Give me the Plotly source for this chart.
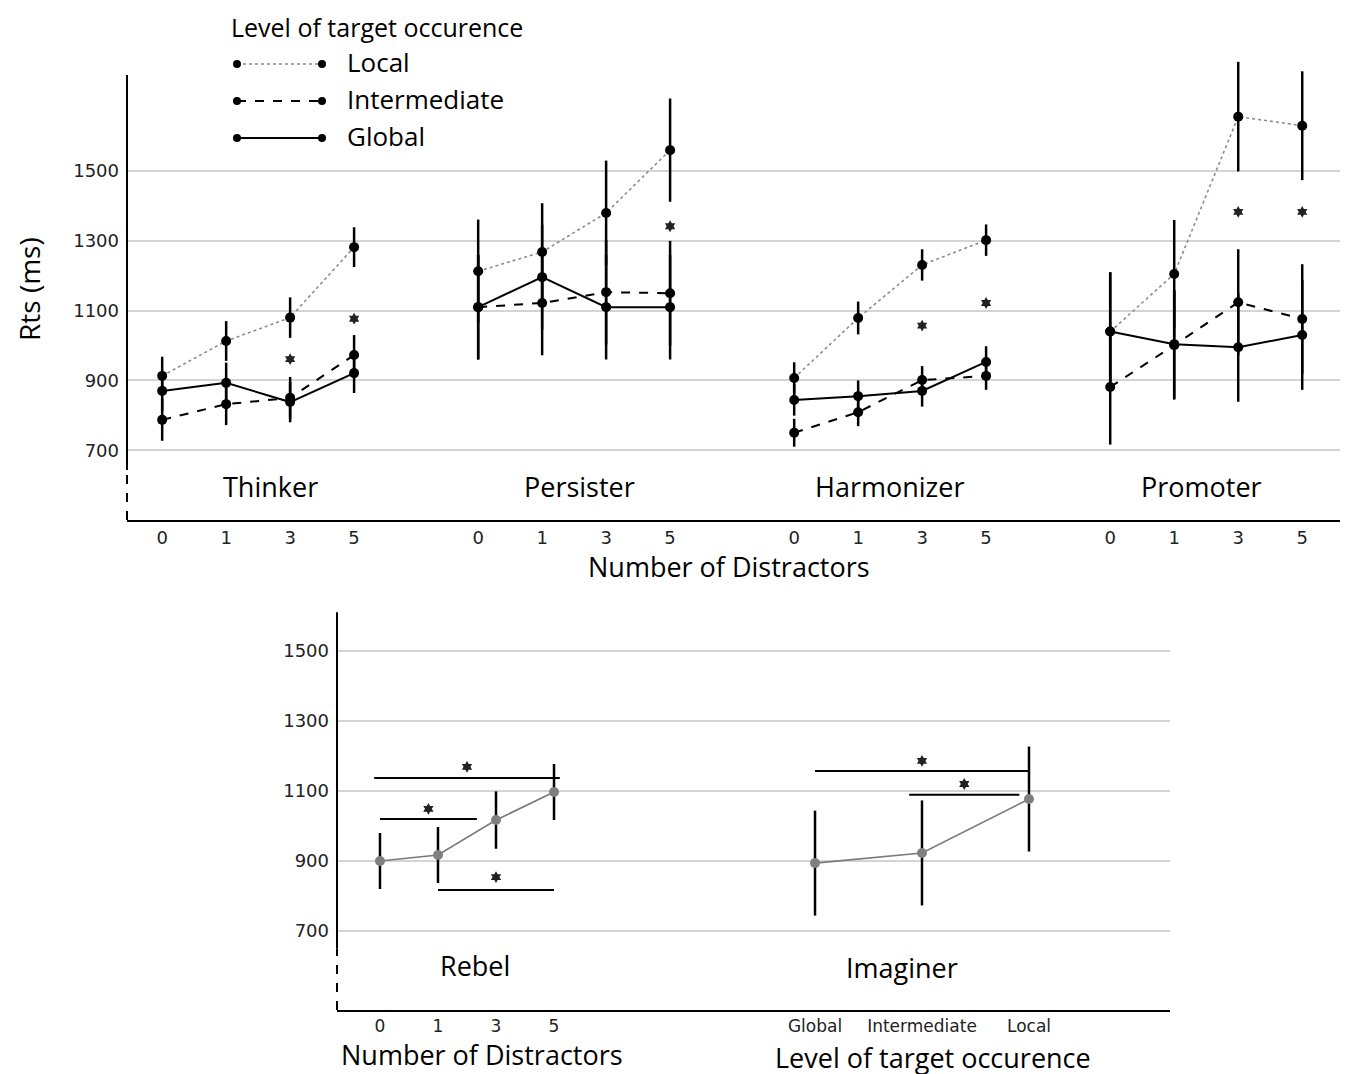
import plotly.graph_objects as go

W, H = 1357, 1074
OFF = 8  # page body margin of the browser

# ---------------- data ----------------
distractors = ['0', '1', '3', '5']
types_top = ['Thinker', 'Persister', 'Harmonizer', 'Promoter']
levels = ['Local', 'Intermediate', 'Global']

thinker_local = [913, 1013, 1080, 1282]
thinker_local_err = [55, 57, 58, 57]
thinker_inter = [787, 832, 850, 973]
thinker_inter_err = [60, 60, 60, 57]
thinker_global = [870, 893, 838, 921]
thinker_global_err = [58, 58, 58, 57]

persister_local = [1213, 1268, 1380, 1560]
persister_local_err = [148, 140, 150, 148]
persister_inter = [1110, 1122, 1153, 1150]
persister_inter_err = [150, 150, 150, 150]
persister_global = [1110, 1196, 1110, 1110]
persister_global_err = [150, 150, 150, 150]

harmonizer_local = [907, 1079, 1231, 1302]
harmonizer_local_err = [45, 47, 45, 45]
harmonizer_inter = [750, 809, 901, 913]
harmonizer_inter_err = [40, 40, 40, 40]
harmonizer_global = [844, 855, 870, 953]
harmonizer_global_err = [45, 45, 45, 45]

promoter_local = [1040, 1205, 1656, 1630]
promoter_local_err = [170, 155, 157, 156]
promoter_inter = [881, 1001, 1124, 1076]
promoter_inter_err = [165, 156, 152, 157]
promoter_global = [1040, 1004, 995, 1030]
promoter_global_err = [170, 156, 156, 157]

# significance stars (category, value) per top panel
thinker_sig_x = ['3', '5']
thinker_sig_y = [961, 1077]
persister_sig_x = ['5']
persister_sig_y = [1342]
harmonizer_sig_x = ['3', '5']
harmonizer_sig_y = [1057, 1122]
promoter_sig_x = ['3', '5']
promoter_sig_y = [1383, 1383]

# bottom panels
rebel_cats = ['0', '1', '3', '5']
rebel_vals = [900, 917, 1017, 1097]
rebel_err = [80, 80, 82, 80]
# significance bars: [start index, end index, bar level, star level]
rebel_bars = [[-0.1, 3.1, 1137, 1169], [0.0, 1.67, 1020, 1049], [1.0, 3.0, 817, 854]]

imaginer_cats = ['Global', 'Intermediate', 'Local']
imaginer_vals = [894, 923, 1077]
imaginer_err = [150, 150, 150]
imaginer_bars = [[0.0, 2.0, 1157, 1186], [0.88, 1.91, 1089, 1120]]

yticks = [700, 900, 1100, 1300, 1500]

top_series = {
    'Thinker': [(thinker_local, thinker_local_err), (thinker_inter, thinker_inter_err), (thinker_global, thinker_global_err)],
    'Persister': [(persister_local, persister_local_err), (persister_inter, persister_inter_err), (persister_global, persister_global_err)],
    'Harmonizer': [(harmonizer_local, harmonizer_local_err), (harmonizer_inter, harmonizer_inter_err), (harmonizer_global, harmonizer_global_err)],
    'Promoter': [(promoter_local, promoter_local_err), (promoter_inter, promoter_inter_err), (promoter_global, promoter_global_err)],
}
top_sig = {
    'Thinker': (thinker_sig_x, thinker_sig_y),
    'Persister': (persister_sig_x, persister_sig_y),
    'Harmonizer': (harmonizer_sig_x, harmonizer_sig_y),
    'Promoter': (promoter_sig_x, promoter_sig_y),
}

# ---------------- styling / layout helpers ----------------
def px(x):
    return (x - OFF) / W

def py(y):
    return 1 - (y - OFF) / H

TXT = 'Open Sans'
TICK = 'DejaVu Sans'
GRID = '#d4d4d4'
BIG = 27

line_styles = {
    'Local': dict(color='#8c8c8c', width=1.6, dash='dot'),
    'Intermediate': dict(color='black', width=2, dash='dash'),
    'Global': dict(color='black', width=2, dash='solid'),
}

fig = go.Figure()
layout = dict(
    width=W, height=H,
    margin=dict(l=0, r=0, t=0, b=0),
    paper_bgcolor='white', plot_bgcolor='white',
    showlegend=False,
)

top_domains = [(127, 443), (443, 759), (759, 1075), (1075, 1340)]
top_ranges = [[-0.55, 4.39], [-0.55, 4.39], [-0.55, 4.39], [-0.55, 3.59]]
top_yrange = [500, 1861.3]

for k, name in enumerate(types_top, start=1):
    xa = 'xaxis' if k == 1 else f'xaxis{k}'
    ya = 'yaxis' if k == 1 else f'yaxis{k}'
    xr = 'x' if k == 1 else f'x{k}'
    yr = 'y' if k == 1 else f'y{k}'
    d0, d1 = top_domains[k - 1]
    layout[xa] = dict(
        domain=[px(d0), px(d1)], anchor=yr, type='category',
        categoryorder='array', categoryarray=distractors,
        range=top_ranges[k - 1], showgrid=False, zeroline=False,
        showline=True, linecolor='black', linewidth=2, ticks='',
        tickfont=dict(family=TICK, size=18, color='#222'),
    )
    yd = dict(
        domain=[py(520), py(45)], anchor=xr, range=top_yrange,
        tickvals=yticks, showgrid=True, gridcolor=GRID, gridwidth=1.5,
        zeroline=False, showline=False, ticks='', ticklabelstandoff=7,
        showticklabels=(k == 1),
        tickfont=dict(family=TICK, size=18, color='#222'),
    )
    if k > 1:
        yd['matches'] = 'y'
    layout[ya] = yd

    for lev, (vals, err) in zip(levels, top_series[name]):
        fig.add_trace(go.Scatter(
            x=distractors, y=vals, mode='lines+markers', name=lev,
            line=line_styles[lev],
            marker=dict(color='black', size=10),
            error_y=dict(type='data', array=err, visible=True,
                         color='black', thickness=2.5, width=0),
            xaxis=xr, yaxis=yr, cliponaxis=False,
        ))
    sx, sy = top_sig[name]
    fig.add_trace(go.Scatter(
        x=sx, y=sy, mode='markers',
        marker=dict(symbol='hexagram', size=9, color='#222'),
        xaxis=xr, yaxis=yr, cliponaxis=False,
    ))

# bottom panels
bot_yrange = [474.3, 1645.7]
layout['yaxis5'] = dict(
    domain=[py(1010), py(600)], anchor='x5', range=bot_yrange,
    tickvals=yticks, showgrid=True, gridcolor=GRID, gridwidth=1.5,
    zeroline=False, showline=False, ticks='', ticklabelstandoff=7,
    tickfont=dict(family=TICK, size=18, color='#222'),
)
layout['yaxis6'] = dict(
    domain=[py(1010), py(600)], anchor='x6', matches='y5',
    tickvals=yticks, showgrid=True, gridcolor=GRID, gridwidth=1.5,
    zeroline=False, showline=False, ticks='', showticklabels=False,
)
layout['xaxis5'] = dict(
    domain=[px(337), px(680)], anchor='y5', range=[-0.741, 5.172],
    tickvals=list(range(len(rebel_cats))), ticktext=rebel_cats,
    showgrid=False, zeroline=False, showline=True, linecolor='black',
    linewidth=2, ticks='', tickfont=dict(family=TICK, size=17, color='#222'),
)
layout['xaxis6'] = dict(
    domain=[px(680), px(1170)], anchor='y6', range=[-1.262, 3.318],
    tickvals=list(range(len(imaginer_cats))), ticktext=imaginer_cats,
    showgrid=False, zeroline=False, showline=True, linecolor='black',
    linewidth=2, ticks='', tickfont=dict(family=TICK, size=17, color='#222'),
)

shapes = []
for cats, vals, err, bars, xr, yr in [
    (rebel_cats, rebel_vals, rebel_err, rebel_bars, 'x5', 'y5'),
    (imaginer_cats, imaginer_vals, imaginer_err, imaginer_bars, 'x6', 'y6'),
]:
    fig.add_trace(go.Scatter(
        x=list(range(len(cats))), y=vals, mode='lines+markers',
        line=dict(color='#7a7a7a', width=1.6),
        marker=dict(color='#7f7f7f', size=10),
        error_y=dict(type='data', array=err, visible=True,
                     color='black', thickness=2.5, width=0),
        xaxis=xr, yaxis=yr, cliponaxis=False,
    ))
    for b in bars:
        shapes.append(dict(type='line', xref=xr, yref=yr, x0=b[0], x1=b[1],
                           y0=b[2], y1=b[2], line=dict(color='black', width=2)))
    fig.add_trace(go.Scatter(
        x=[(b[0] + b[1]) / 2 for b in bars], y=[b[3] for b in bars],
        mode='markers', marker=dict(symbol='hexagram', size=9, color='#222'),
        xaxis=xr, yaxis=yr, cliponaxis=False,
    ))

# y axis lines (solid, then dashed near the bottom)
shapes += [
    dict(type='line', xref='paper', yref='y', x0=px(127), x1=px(127), y0=643, y1=1775,
         line=dict(color='black', width=2)),
    dict(type='line', xref='paper', yref='y', x0=px(127), x1=px(127), y0=500, y1=643,
         line=dict(color='black', width=2, dash='dash')),
    dict(type='line', xref='paper', yref='y5', x0=px(337), x1=px(337), y0=650, y1=1611,
         line=dict(color='black', width=2)),
    dict(type='line', xref='paper', yref='y5', x0=px(337), x1=px(337), y0=474.3, y1=650,
         line=dict(color='black', width=2, dash='dash')),
]

# manual legend
annotations = []
leg_rows = [64, 101, 138]
for lev, yy in zip(levels, leg_rows):
    st = line_styles[lev]
    shapes.append(dict(type='line', xref='paper', yref='paper', x0=px(237), x1=px(322),
                       y0=py(yy), y1=py(yy), line=st))
    for xx in (237, 322):
        shapes.append(dict(type='circle', xref='paper', yref='paper',
                           x0=px(xx - 4), x1=px(xx + 4), y0=py(yy + 4), y1=py(yy - 4),
                           fillcolor='black', line=dict(color='black', width=0)))
    annotations.append(dict(text=lev, xref='paper', yref='paper', x=px(345), y=py(yy - 2),
                            xanchor='left', yanchor='middle', showarrow=False,
                            font=dict(family=TXT, size=26, color='black')))
annotations.append(dict(text='Level of target occurence', xref='paper', yref='paper',
                        x=px(377), y=py(8), xanchor='center', yanchor='top',
                        showarrow=False, font=dict(family=TXT, size=25, color='black')))

def label(text, x, y, size=BIG, angle=0):
    annotations.append(dict(text=text, xref='paper', yref='paper', x=px(x), y=py(y),
                            xanchor='center', yanchor='middle', showarrow=False,
                            textangle=angle, font=dict(family=TXT, size=size, color='black')))

group_label_x = [270, 579, 890, 1201]
for name, gx in zip(types_top, group_label_x):
    label(name, gx, 486)
label('Number of Distractors', 729, 566)
label('Rts (ms)', 29, 289, size=28, angle=-90)
label('Rebel', 475, 965)
label('Imaginer', 902, 968)
label('Number of Distractors', 482, 1054)
label('Level of target occurence', 933, 1057)

layout['shapes'] = shapes
layout['annotations'] = annotations
fig.update_layout(**layout)

fig.write_html('out.html')
